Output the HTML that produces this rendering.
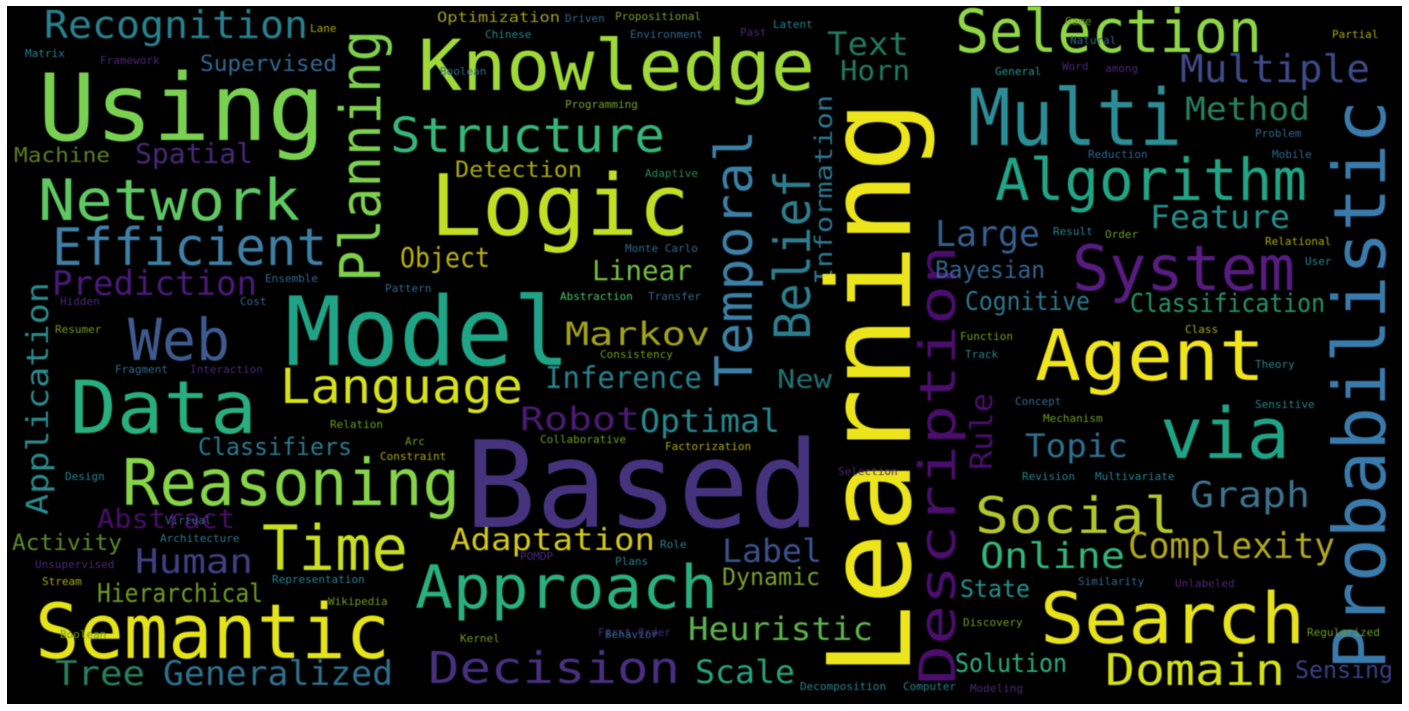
<!DOCTYPE html>
<html><head><meta charset="utf-8"><style>
html,body{margin:0;padding:0;background:#fff;}
svg{display:block;}
text{font-family:"DejaVu Sans Mono","Liberation Mono",monospace;}
</style></head><body>
<svg width="1409" height="711" viewBox="0 0 1409 711" xmlns="http://www.w3.org/2000/svg">
<rect x="0" y="0" width="1409" height="711" fill="#fff"/>
<rect x="7" y="6" width="1395" height="698" fill="#000"/>
<g style="filter:blur(0.5px)">
<text x="44" y="38" font-size="38" fill="#26828e" textLength="264" lengthAdjust="spacingAndGlyphs">Recognition</text>
<text x="38" y="140" font-size="93" fill="#7ad151" textLength="287" lengthAdjust="spacingAndGlyphs">Using</text>
<text x="200" y="71" font-size="22" fill="#31688e" textLength="137" lengthAdjust="spacingAndGlyphs">Supervised</text>
<text x="14" y="162" font-size="20" fill="#5d7f22" textLength="96" lengthAdjust="spacingAndGlyphs">Machine</text>
<text x="135" y="163" font-size="28" fill="#482878" textLength="118" lengthAdjust="spacingAndGlyphs">Spatial</text>
<text x="38" y="220" font-size="57" fill="#5ec962" textLength="262" lengthAdjust="spacingAndGlyphs">Network</text>
<text x="52" y="265" font-size="52" fill="#3e7fa5" textLength="275" lengthAdjust="spacingAndGlyphs">Efficient</text>
<text x="52" y="295" font-size="34" fill="#4a1a7a" textLength="205" lengthAdjust="spacingAndGlyphs">Prediction</text>
<text x="128" y="360" font-size="58" fill="#3e5a8f" textLength="102" lengthAdjust="spacingAndGlyphs">Web</text>
<text x="70" y="433" font-size="73" fill="#29af7f" textLength="187" lengthAdjust="spacingAndGlyphs">Data</text>
<text x="280" y="403" font-size="48" fill="#d8e219" textLength="243" lengthAdjust="spacingAndGlyphs">Language</text>
<text x="198" y="455" font-size="24" fill="#2a788e" textLength="154" lengthAdjust="spacingAndGlyphs">Classifiers</text>
<text x="122" y="505" font-size="64" fill="#86d549" textLength="338" lengthAdjust="spacingAndGlyphs">Reasoning</text>
<text x="97" y="528" font-size="27" fill="#4b0c6b" textLength="138" lengthAdjust="spacingAndGlyphs">Abstract</text>
<text x="12" y="550" font-size="22" fill="#5d8a2a" textLength="110" lengthAdjust="spacingAndGlyphs">Activity</text>
<text x="135" y="573" font-size="34" fill="#433e85" textLength="118" lengthAdjust="spacingAndGlyphs">Human</text>
<text x="262" y="570" font-size="62" fill="#c8e020" textLength="146" lengthAdjust="spacingAndGlyphs">Time</text>
<text x="97" y="602" font-size="26" fill="#6f9b1e" textLength="166" lengthAdjust="spacingAndGlyphs">Hierarchical</text>
<text x="35" y="658" font-size="76" fill="#e5e419" textLength="355" lengthAdjust="spacingAndGlyphs">Semantic</text>
<text x="55" y="685" font-size="34" fill="#277f5e" textLength="90" lengthAdjust="spacingAndGlyphs">Tree</text>
<text x="163" y="685" font-size="34" fill="#2c728e" textLength="230" lengthAdjust="spacingAndGlyphs">Generalized</text>
<text transform="translate(48,515) rotate(-90)" font-size="30" fill="#2a8a8c" textLength="233" lengthAdjust="spacingAndGlyphs">Application</text>
<text transform="translate(380,282) rotate(-90)" font-size="56" fill="#7dd04c" textLength="252" lengthAdjust="spacingAndGlyphs">Planning</text>
<text x="437" y="22" font-size="14" fill="#a0a01a" textLength="123" lengthAdjust="spacingAndGlyphs">Optimization</text>
<text x="418" y="90" font-size="70" fill="#a0da39" textLength="397" lengthAdjust="spacingAndGlyphs">Knowledge</text>
<text x="390" y="152" font-size="48" fill="#35b779" textLength="275" lengthAdjust="spacingAndGlyphs">Structure</text>
<text x="455" y="177" font-size="22" fill="#a8a80c" textLength="127" lengthAdjust="spacingAndGlyphs">Detection</text>
<text x="430" y="235" font-size="85" fill="#c2df23" textLength="260" lengthAdjust="spacingAndGlyphs">Logic</text>
<text x="400" y="267" font-size="28" fill="#b8b00a" textLength="90" lengthAdjust="spacingAndGlyphs">Object</text>
<text x="592" y="280" font-size="28" fill="#74bf3c" textLength="100" lengthAdjust="spacingAndGlyphs">Linear</text>
<text x="565" y="345" font-size="32" fill="#a3a21a" textLength="145" lengthAdjust="spacingAndGlyphs">Markov</text>
<text x="285" y="365" font-size="95" fill="#20a486" textLength="285" lengthAdjust="spacingAndGlyphs">Model</text>
<text x="545" y="388" font-size="30" fill="#26828e" textLength="157" lengthAdjust="spacingAndGlyphs">Inference</text>
<text x="777" y="388" font-size="26" fill="#1f6f70" textLength="55" lengthAdjust="spacingAndGlyphs">New</text>
<text x="520" y="430" font-size="32" fill="#4b1a74" textLength="120" lengthAdjust="spacingAndGlyphs">Robot</text>
<text x="640" y="432" font-size="32" fill="#23898e" textLength="140" lengthAdjust="spacingAndGlyphs">Optimal</text>
<text x="465" y="527" font-size="120" fill="#46337e" textLength="355" lengthAdjust="spacingAndGlyphs">Based</text>
<text x="450" y="550" font-size="30" fill="#d2c81a" textLength="205" lengthAdjust="spacingAndGlyphs">Adaptation</text>
<text x="722" y="562" font-size="32" fill="#3b528b" textLength="100" lengthAdjust="spacingAndGlyphs">Label</text>
<text x="415" y="608" font-size="60" fill="#2ab07f" textLength="303" lengthAdjust="spacingAndGlyphs">Approach</text>
<text x="722" y="585" font-size="24" fill="#7a9e2a" textLength="98" lengthAdjust="spacingAndGlyphs">Dynamic</text>
<text x="688" y="640" font-size="32" fill="#5cb24c" textLength="185" lengthAdjust="spacingAndGlyphs">Heuristic</text>
<text x="428" y="683" font-size="44" fill="#482f7f" textLength="252" lengthAdjust="spacingAndGlyphs">Decision</text>
<text x="695" y="683" font-size="32" fill="#27a17e" textLength="100" lengthAdjust="spacingAndGlyphs">Scale</text>
<text transform="translate(752,387) rotate(-90)" font-size="52" fill="#3b80a5" textLength="257" lengthAdjust="spacingAndGlyphs">Temporal</text>
<text transform="translate(810,340) rotate(-90)" font-size="50" fill="#2c7e8e" textLength="170" lengthAdjust="spacingAndGlyphs">Belief</text>
<text transform="translate(832,285) rotate(-90)" font-size="24" fill="#2a768e" textLength="190" lengthAdjust="spacingAndGlyphs">Information</text>
<text transform="translate(910,677) rotate(-90)" font-size="115" fill="#ece51b" textLength="577" lengthAdjust="spacingAndGlyphs">Learning</text>
<text transform="translate(955,685) rotate(-90)" font-size="50" fill="#4b0d6e" textLength="440" lengthAdjust="spacingAndGlyphs">Description</text>
<text transform="translate(992,470) rotate(-90)" font-size="30" fill="#4b0d6e" textLength="77" lengthAdjust="spacingAndGlyphs">Rule</text>
<text x="827" y="55" font-size="32" fill="#1f7a5f" textLength="82" lengthAdjust="spacingAndGlyphs">Text</text>
<text x="840" y="80" font-size="28" fill="#1f7a5f" textLength="70" lengthAdjust="spacingAndGlyphs">Horn</text>
<text x="955" y="52" font-size="60" fill="#8fd744" textLength="307" lengthAdjust="spacingAndGlyphs">Selection</text>
<text x="1180" y="82" font-size="38" fill="#3e4a89" textLength="190" lengthAdjust="spacingAndGlyphs">Multiple</text>
<text x="968" y="145" font-size="78" fill="#2c8d96" textLength="214" lengthAdjust="spacingAndGlyphs">Multi</text>
<text x="1185" y="120" font-size="32" fill="#27815f" textLength="125" lengthAdjust="spacingAndGlyphs">Method</text>
<text x="995" y="200" font-size="58" fill="#21a585" textLength="312" lengthAdjust="spacingAndGlyphs">Algorithm</text>
<text x="1150" y="228" font-size="32" fill="#21918c" textLength="140" lengthAdjust="spacingAndGlyphs">Feature</text>
<text x="935" y="246" font-size="36" fill="#35608d" textLength="105" lengthAdjust="spacingAndGlyphs">Large</text>
<text x="935" y="278" font-size="24" fill="#32648e" textLength="110" lengthAdjust="spacingAndGlyphs">Bayesian</text>
<text x="1072" y="290" font-size="62" fill="#581c80" textLength="223" lengthAdjust="spacingAndGlyphs">System</text>
<text x="965" y="310" font-size="26" fill="#2a788e" textLength="125" lengthAdjust="spacingAndGlyphs">Cognitive</text>
<text x="1130" y="312" font-size="26" fill="#26926a" textLength="195" lengthAdjust="spacingAndGlyphs">Classification</text>
<text x="1035" y="380" font-size="70" fill="#f0e51d" textLength="230" lengthAdjust="spacingAndGlyphs">Agent</text>
<text x="1160" y="458" font-size="70" fill="#20a486" textLength="130" lengthAdjust="spacingAndGlyphs">via</text>
<text x="1025" y="457" font-size="32" fill="#2d6f8e" textLength="103" lengthAdjust="spacingAndGlyphs">Topic</text>
<text x="1190" y="507" font-size="36" fill="#3b738e" textLength="120" lengthAdjust="spacingAndGlyphs">Graph</text>
<text x="975" y="533" font-size="50" fill="#b4c72a" textLength="203" lengthAdjust="spacingAndGlyphs">Social</text>
<text x="980" y="568" font-size="36" fill="#31b57b" textLength="145" lengthAdjust="spacingAndGlyphs">Online</text>
<text x="1128" y="558" font-size="36" fill="#b2a81d" textLength="207" lengthAdjust="spacingAndGlyphs">Complexity</text>
<text x="960" y="597" font-size="24" fill="#20928c" textLength="70" lengthAdjust="spacingAndGlyphs">State</text>
<text x="1040" y="643" font-size="70" fill="#e6e21c" textLength="265" lengthAdjust="spacingAndGlyphs">Search</text>
<text x="955" y="672" font-size="26" fill="#26ad81" textLength="112" lengthAdjust="spacingAndGlyphs">Solution</text>
<text x="1105" y="685" font-size="44" fill="#d5e21a" textLength="180" lengthAdjust="spacingAndGlyphs">Domain</text>
<text x="1295" y="678" font-size="24" fill="#3b3f85" textLength="98" lengthAdjust="spacingAndGlyphs">Sensing</text>
<text transform="translate(1385,670) rotate(-90)" font-size="72" fill="#3a7bad" textLength="570" lengthAdjust="spacingAndGlyphs">Probabilistic</text>
<g font-size="11">
<text x="25" y="57" fill="#26828e">Matrix</text>
<text x="100" y="64" fill="#482878">Framework</text>
<text x="310" y="32" fill="#a8a80c">Lane</text>
<text x="565" y="22" fill="#31688e">Driven</text>
<text x="615" y="20" fill="#7a9e2a">Propositional</text>
<text x="485" y="38" fill="#26828e">Chinese</text>
<text x="630" y="38" fill="#31688e">Environment</text>
<text x="740" y="36" fill="#482878">Past</text>
<text x="773" y="28" fill="#26828e">Latent</text>
<text x="565" y="108" fill="#7a9e2a">Programming</text>
<text x="645" y="177" fill="#2a8a5a">Adaptive</text>
<text x="625" y="252" fill="#31688e">Monte Carlo</text>
<text x="560" y="300" fill="#4ac16d">Abstraction</text>
<text x="648" y="300" fill="#31688e">Transfer</text>
<text x="600" y="358" fill="#6f9b1e">Consistency</text>
<text x="540" y="443" fill="#6f9b1e">Collaborative</text>
<text x="665" y="450" fill="#a8a80c">Factorization</text>
<text x="380" y="460" fill="#a8a80c">Constraint</text>
<text x="330" y="428" fill="#6f9b1e">Relation</text>
<text x="405" y="445" fill="#6f9b1e">Arc</text>
<text x="65" y="480" fill="#26828e">Design</text>
<text x="165" y="524" fill="#31688e">Virtual</text>
<text x="160" y="542" fill="#2a788e">Architecture</text>
<text x="35" y="568" fill="#482878">Unsupervised</text>
<text x="42" y="585" fill="#a8a80c">Stream</text>
<text x="272" y="583" fill="#26828e">Representation</text>
<text x="328" y="605" fill="#6f9b1e">Wikipedia</text>
<text x="115" y="373" fill="#31688e">Fragment</text>
<text x="190" y="373" fill="#482878">Interaction</text>
<text x="60" y="638" fill="#6f9b1e">Boolean</text>
<text x="55" y="333" fill="#6f9b1e">Resumer</text>
<text x="60" y="305" fill="#482878">Hidden</text>
<text x="265" y="282" fill="#31688e">Ensemble</text>
<text x="240" y="305" fill="#31688e">Cost</text>
<text x="385" y="292" fill="#31688e">Pattern</text>
<text x="440" y="75" fill="#31688e">Boolean</text>
<text x="598" y="636" fill="#482878">First Order</text>
<text x="605" y="638" fill="#31688e">Behavior</text>
<text x="460" y="642" fill="#6f9b1e">Kernel</text>
<text x="520" y="560" fill="#482878">POMDP</text>
<text x="615" y="565" fill="#26828e">Plans</text>
<text x="660" y="548" fill="#26828e">Role</text>
<text x="838" y="475" fill="#482878">Selection</text>
<text x="800" y="690" fill="#26828e">Decomposition</text>
<text x="903" y="690" fill="#26828e">Computer</text>
<text x="1065" y="25" fill="#6f9b1e">Game</text>
<text x="1070" y="44" fill="#31688e">Natural</text>
<text x="1332" y="38" fill="#a8a80c">Partial</text>
<text x="995" y="75" fill="#26928a">General</text>
<text x="1062" y="70" fill="#482878">Word</text>
<text x="1105" y="72" fill="#482878">among</text>
<text x="1088" y="158" fill="#31688e">Reduction</text>
<text x="1272" y="158" fill="#31688e">Mobile</text>
<text x="1255" y="137" fill="#31688e">Problem</text>
<text x="1053" y="235" fill="#26828e">Result</text>
<text x="1105" y="238" fill="#6f9b1e">Order</text>
<text x="1265" y="245" fill="#a8a80c">Relational</text>
<text x="1305" y="265" fill="#26828e">User</text>
<text x="1185" y="333" fill="#a8a80c">Class</text>
<text x="960" y="340" fill="#6f9b1e">Function</text>
<text x="965" y="358" fill="#26828e">Track</text>
<text x="1255" y="368" fill="#26828e">Theory</text>
<text x="1015" y="405" fill="#31688e">Concept</text>
<text x="1255" y="408" fill="#26828e">Sensitive</text>
<text x="1043" y="422" fill="#6f9b1e">Mechanism</text>
<text x="1022" y="480" fill="#26828e">Revision</text>
<text x="1095" y="480" fill="#26828e">Multivariate</text>
<text x="1078" y="585" fill="#31688e">Similarity</text>
<text x="1175" y="587" fill="#482878">Unlabeled</text>
<text x="963" y="626" fill="#6f9b1e">Discovery</text>
<text x="1307" y="636" fill="#6f9b1e">Regularized</text>
<text x="970" y="692" fill="#482878">Modeling</text>
</g>
</g>
</svg>
</body></html>
